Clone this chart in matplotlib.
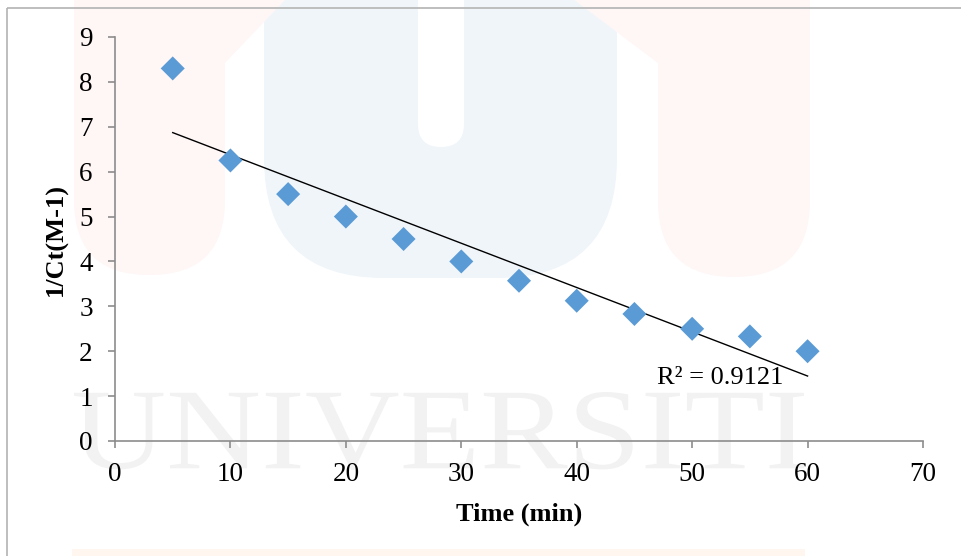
import numpy as np
import matplotlib
matplotlib.use("Agg")
import matplotlib.pyplot as plt
from matplotlib.patches import FancyBboxPatch, Polygon, Rectangle, PathPatch
from matplotlib.textpath import TextPath
from matplotlib.font_manager import FontProperties
from matplotlib.transforms import Affine2D

# ---- data ----
time_min = [5, 10, 15, 20, 25, 30, 35, 40, 45, 50, 55, 60]
inv_ct = [8.3, 6.25, 5.5, 5.0, 4.5, 4.0, 3.57, 3.125, 2.83, 2.5, 2.33, 2.0]
x_ticks = [0, 10, 20, 30, 40, 50, 60, 70]
y_ticks = [0, 1, 2, 3, 4, 5, 6, 7, 8, 9]
x_label = "Time (min)"
y_label = "1/Ct(M-1)"
r2_label = "R² = 0.9121"

W, H = 962, 556
fig = plt.figure(figsize=(W / 100, H / 100), dpi=100)
fig.patch.set_facecolor("white")

# ---- faint background watermark (pixel coordinates) ----
bg = fig.add_axes([0, 0, 1, 1], zorder=0)
bg.set_xlim(0, W)
bg.set_ylim(H, 0)
bg.axis("off")
pink = "#fff6f6"
blue = "#f0f5fa"
bg.add_patch(FancyBboxPatch((264, -150), 353, 428, boxstyle="round,pad=0,rounding_size=120",
                            fc=blue, ec="none"))
bg.add_patch(FancyBboxPatch((418, -100), 46, 247, boxstyle="round,pad=0,rounding_size=23",
                            fc="white", ec="none"))
bg.add_patch(FancyBboxPatch((74, -150), 151, 425, boxstyle="round,pad=0,rounding_size=75",
                            fc=pink, ec="none"))
bg.add_patch(Polygon([(74, 0), (285, 0), (225, 63), (74, 63)], closed=True, fc=pink, ec="none"))
bg.add_patch(FancyBboxPatch((658, -150), 152, 427, boxstyle="round,pad=0,rounding_size=76",
                            fc=pink, ec="none"))
bg.add_patch(Polygon([(574, 0), (797, 0), (810, 63), (658, 63)], closed=True, fc=pink, ec="none"))
tp = TextPath((0, 0), "UNIVERSITI", size=1, prop=FontProperties(family="Liberation Serif"))
ext = tp.get_extents()
sx = (804 - 74) / ext.width
sy = (470 - 392) / ext.height
tr = Affine2D().translate(-ext.x0, -ext.y0).scale(sx, -sy).translate(74, 470) + bg.transData
bg.add_patch(PathPatch(tp, fc="#f2f2f2", ec="none", transform=tr))
bg.add_patch(Rectangle((72, 549), 733, 10, fc="#fff6f0", ec="none"))
# outer chart border
bg.add_patch(Rectangle((7, 8), 1000, 600, fc="none", ec="#b3b3b3", lw=1.2))

# ---- main chart ----
ax = fig.add_axes([115 / W, 1 - 441 / H, 808 / W, 404 / H], zorder=2)
ax.patch.set_alpha(0)

x = np.array(time_min, dtype=float)
y = np.array(inv_ct, dtype=float)
ax.scatter(x, y, marker="D", s=150, color="#5b9bd5", edgecolors="none", zorder=3)
m, b = np.polyfit(x, y, 1)
xx = np.array([x.min(), x.max()])
ax.plot(xx, m * xx + b, color="black", lw=1.0, zorder=2)

ax.text(52.4, 1.40, r2_label, fontsize=19, family="Liberation Serif",
        ha="center", va="center")

ax.set_xlim(0, 70)
ax.set_ylim(0, 9)
ax.set_xticks(x_ticks)
ax.set_yticks(y_ticks)
for s in ("top", "right"):
    ax.spines[s].set_visible(False)
for s in ("left", "bottom"):
    ax.spines[s].set_color("#8c8c8c")
    ax.spines[s].set_linewidth(1.2)
ax.tick_params(axis="both", direction="out", length=5, width=1.2, color="#8c8c8c",
               labelsize=19.5)
ax.tick_params(axis="x", pad=10)
ax.tick_params(axis="y", pad=11)
for lab in ax.get_xticklabels() + ax.get_yticklabels():
    lab.set_family("Liberation Serif")

ax.set_xlabel(x_label, fontsize=19, family="Liberation Serif", fontweight="bold", labelpad=11)
ax.set_ylabel(y_label, fontsize=19, family="Liberation Serif", fontweight="bold", labelpad=8)

fig.savefig("out.png", dpi=100)
